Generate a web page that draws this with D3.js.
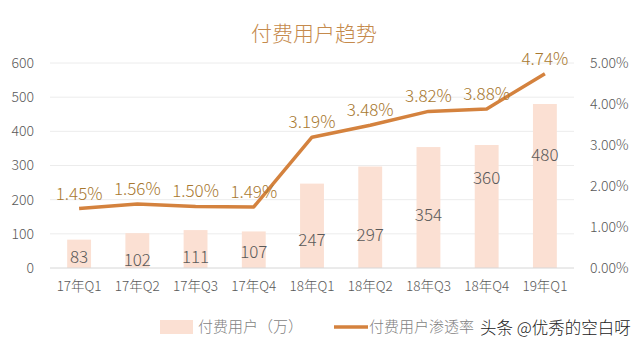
<!DOCTYPE html>
<html>
<head>
<meta charset="utf-8">
<script src="https://cdn.jsdelivr.net/npm/d3@7"></script>
<style>
  body { margin: 0; background: #fff; }
  text { font-family: "Noto Sans CJK SC", "Noto Sans", sans-serif; font-weight: 300; }
</style>
</head>
<body>
<div class="chart_area"></div>
<script>
var categories = ["17年Q1", "17年Q2", "17年Q3", "17年Q4", "18年Q1", "18年Q2", "18年Q3", "18年Q4", "19年Q1"];
var users = [83, 102, 111, 107, 247, 297, 354, 360, 480];
var rate = [1.45, 1.56, 1.50, 1.49, 3.19, 3.48, 3.82, 3.88, 4.74];
// where the bar labels sit, in left-axis units
var barLabelAt = [32, 23, 32, 47, 82, 97, 155, 263, 331];
var leftTicks = [0, 100, 200, 300, 400, 500, 600];
var rightTicks = [0, 1, 2, 3, 4, 5];

var width = 640, height = 351;
var margin = {top: 63, right: 66, bottom: 83, left: 50};

var svg = d3.select(".chart_area").append("svg")
    .attr("width", width)
    .attr("height", height);

var x = d3.scaleBand()
    .domain(categories)
    .range([margin.left, width - margin.right])
    .paddingInner(0.59)
    .paddingOuter(0.295);

var y = d3.scaleLinear().domain([0, 600]).range([height - margin.bottom, margin.top]);
var y2 = d3.scaleLinear().domain([0, 5]).range([height - margin.bottom, margin.top]);

// gridlines
svg.append("g").selectAll("line")
    .data(leftTicks.slice(1))
    .enter().append("line")
    .attr("x1", margin.left).attr("x2", width - margin.right)
    .attr("y1", function(d) { return y(d); })
    .attr("y2", function(d) { return y(d); })
    .attr("stroke", "#ececec");

// bars
svg.append("g").selectAll("rect")
    .data(users)
    .enter().append("rect")
    .attr("x", function(d, i) { return x(categories[i]); })
    .attr("y", function(d) { return y(d); })
    .attr("width", x.bandwidth())
    .attr("height", function(d) { return y(0) - y(d); })
    .attr("fill", "#fbe0d3");

// baseline
svg.append("line")
    .attr("x1", margin.left).attr("x2", width - margin.right)
    .attr("y1", y(0)).attr("y2", y(0))
    .attr("stroke", "#d6d6d6");

// left axis
var yAxis = svg.append("g")
    .attr("transform", "translate(" + (margin.left - 13) + ",0)")
    .call(d3.axisLeft(y).tickValues(leftTicks).tickSize(0));
yAxis.select(".domain").remove();
yAxis.selectAll("text").style("font-size", "14px").style("fill", "#595959");

// right axis
var y2Axis = svg.append("g")
    .attr("transform", "translate(" + (width - margin.right + 13) + ",0)")
    .call(d3.axisRight(y2).tickValues(rightTicks).tickSize(0)
      .tickFormat(function(d) { return d.toFixed(2) + "%"; }));
y2Axis.select(".domain").remove();
y2Axis.selectAll("text").style("font-size", "14px").style("fill", "#595959");

// x axis
var xAxis = svg.append("g")
    .attr("transform", "translate(0," + (y(0) + 10) + ")")
    .call(d3.axisBottom(x).tickSize(0));
xAxis.select(".domain").remove();
xAxis.selectAll("text").style("font-size", "13.5px").style("fill", "#595959");

// bar labels
svg.append("g").selectAll("text")
    .data(users)
    .enter().append("text")
    .attr("x", function(d, i) { return x(categories[i]) + x.bandwidth() / 2; })
    .attr("y", function(d, i) { return y(barLabelAt[i]); })
    .attr("dy", "0.35em")
    .attr("text-anchor", "middle")
    .style("font-size", "17px")
    .style("fill", "#595959")
    .text(function(d) { return d; });

// line
var line = d3.line()
    .x(function(d, i) { return x(categories[i]) + x.bandwidth() / 2; })
    .y(function(d) { return y2(d); });

svg.append("path")
    .datum(rate)
    .attr("d", line)
    .attr("fill", "none")
    .attr("stroke", "#d4823e")
    .attr("stroke-width", 3.5)
    .attr("stroke-linejoin", "round");

// line labels
svg.append("g").selectAll("text")
    .data(rate)
    .enter().append("text")
    .attr("x", function(d, i) { return x(categories[i]) + x.bandwidth() / 2; })
    .attr("y", function(d) { return y2(d) - 15; })
    .attr("dy", "0.35em")
    .attr("text-anchor", "middle")
    .style("font-size", "17px")
    .style("fill", "#a8782f")
    .text(function(d) { return d.toFixed(2) + "%"; });

// title
svg.append("text")
    .attr("x", 314).attr("y", 34)
    .attr("dy", "0.35em")
    .attr("text-anchor", "middle")
    .style("font-size", "21px")
    .style("fill", "#c58a4c")
    .text("付费用户趋势");

// legend
var legend = svg.append("g").attr("transform", "translate(0,327)");
legend.append("rect")
    .attr("x", 160).attr("y", -7).attr("width", 33).attr("height", 14)
    .attr("fill", "#fbe0d3");
legend.append("text")
    .attr("x", 198).attr("dy", "0.35em")
    .style("font-size", "15px").style("fill", "#7f7f7f")
    .text("付费用户（万）");
legend.append("line")
    .attr("x1", 334).attr("x2", 368)
    .attr("stroke", "#d4823e").attr("stroke-width", 3.5);
legend.append("text")
    .attr("x", 369).attr("dy", "0.35em")
    .style("font-size", "15px").style("fill", "#7f7f7f")
    .text("付费用户渗透率");

// watermark
svg.append("text")
    .attr("x", 480).attr("y", 328)
    .attr("dy", "0.35em")
    .style("font-size", "16.5px")
    .style("fill", "#222")
    .style("stroke", "#fff")
    .style("stroke-width", 2)
    .style("paint-order", "stroke")
    .text("头条 @优秀的空白呀");
</script>
</body>
</html>
